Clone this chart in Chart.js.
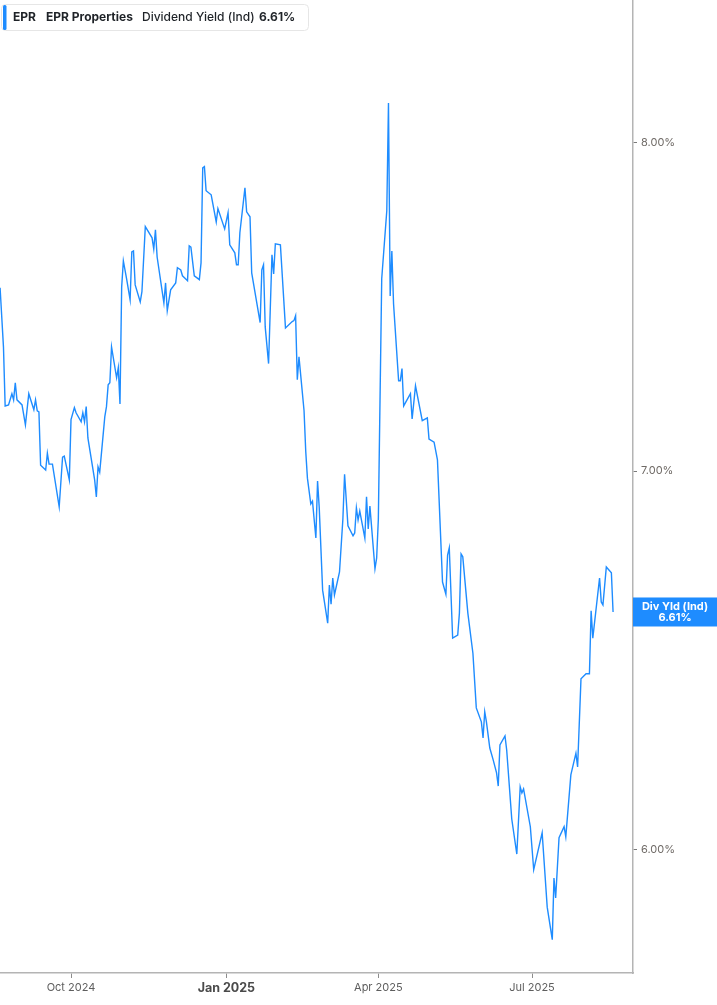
<!DOCTYPE html>
<html>
<head>
<meta charset="utf-8">
<script src="https://cdn.jsdelivr.net/npm/chart.js@4.4.1/dist/chart.umd.min.js"></script>
<style>
  html, body { margin: 0; padding: 0; background: #fff; }
  #wrap { width: 717px; height: 1005px; position: relative; }
  #yieldChart { display: block; width: 717px; height: 1005px; }
</style>
</head>
<body>
<div id="wrap"><canvas id="yieldChart" width="717" height="1005"></canvas></div>
<script>
// EPR Properties - dividend yield (indicated), Aug 2024 .. Aug 2025
// days = days since 1 Aug 2024

const days = [19,21,22,24,26,27,28,29,32,34,36,39,40,41,42,43,46,47,48,50,
  54,56,57,60,61,63,64,67,68,69,70,71,75,76,77,78,81,82,83,84,
  85,88,89,90,91,92,94,96,97,98,99,102,103,105,109,110,111,112,116,117,
  118,120,123,124,126,127,130,131,132,134,137,138,139,140,141,144,147,148,152,154,
  155,158,159,160,161,164,165,167,168,173,174,175,176,178,180,181,182,185,188,192,
  193,194,195,196,199,200,201,203,204,206,207,208,210,213,214,215,216,217,220,222,
  223,225,228,229,230,231,232,235,236,237,238,241,242,243,245,248,249,250,251,252,
  255,256,257,258,262,263,265,269,272,273,276,278,281,283,284,285,287,290,291,292,
  293,296,299,301,304,305,306,307,309,311,313,314,315,318,319,322,325,327,328,329,
  333,335,340,343,346,347,348,350,353,354,357,360,361,363,366,368,369,370,374,375,
  376,378,381,382];

const yieldPct = [7.542,7.363,7.188,7.191,7.224,7.206,7.256,7.206,7.191,7.133,
  7.224,7.177,7.206,7.174,7.171,7.017,7.003,7.051,7.020,7.020,
  6.899,7.040,7.043,6.975,7.148,7.183,7.168,7.142,7.168,7.142,
  7.186,7.095,6.975,6.927,7.012,6.997,7.156,7.186,7.250,7.256,
  7.363,7.271,7.301,7.194,7.545,7.625,7.567,7.505,7.653,7.656,
  7.551,7.499,7.530,7.732,7.697,7.662,7.722,7.637,7.496,7.557,
  7.472,7.536,7.557,7.604,7.597,7.579,7.564,7.672,7.668,7.579,
  7.567,7.619,7.919,7.923,7.846,7.833,7.747,7.789,7.725,7.776,
  7.675,7.650,7.613,7.613,7.713,7.855,7.779,7.763,7.588,7.436,
  7.597,7.613,7.423,7.313,7.644,7.585,7.678,7.675,7.420,7.439,
  7.442,7.457,7.265,7.333,7.174,7.057,6.980,6.907,6.915,6.812,
  6.972,6.896,6.669,6.580,6.683,6.631,6.702,6.656,6.719,6.865,
  6.991,6.846,6.818,6.826,6.896,6.862,6.887,6.812,6.927,6.837,
  6.901,6.727,6.757,6.865,7.570,7.782,8.131,7.517,7.656,7.493,
  7.262,7.262,7.298,7.188,7.224,7.150,7.247,7.145,7.153,7.092,
  7.083,7.032,6.691,6.658,6.765,6.785,6.540,6.548,6.607,6.768,
  6.760,6.607,6.500,6.357,6.321,6.280,6.347,6.321,6.254,6.224,
  6.191,6.158,6.262,6.285,6.249,6.076,5.990,6.156,6.141,6.151,
  6.057,5.952,6.042,5.862,5.785,5.932,5.884,6.030,6.057,6.032,
  6.186,6.241,6.206,6.433,6.446,6.446,6.613,6.540,6.702,6.637,
  6.629,6.732,6.716,6.610];

// x ticks (1st of month, days since 1 Aug 2024)
const xTickDays = [61, 153, 243, 334];
const xTickLabels = ['Oct 2024', 'Jan 2025', 'Apr 2025', 'Jul 2025'];
const yTickValues = [6, 7, 8];

const LINE_BLUE = '#1e8cff';
const AXIS_GREY = '#b4b4b4';
const LABEL_GREY = '#6f6a66';

function roundRect(ctx, x, y, w, h, r) {
  ctx.beginPath();
  ctx.moveTo(x + r, y);
  ctx.lineTo(x + w - r, y);
  ctx.quadraticCurveTo(x + w, y, x + w, y + r);
  ctx.lineTo(x + w, y + h - r);
  ctx.quadraticCurveTo(x + w, y + h, x + w - r, y + h);
  ctx.lineTo(x + r, y + h);
  ctx.quadraticCurveTo(x, y + h, x, y + h - r);
  ctx.lineTo(x, y + r);
  ctx.quadraticCurveTo(x, y, x + r, y);
  ctx.closePath();
}

// header legend + last value tag
const overlayPlugin = {
  id: 'overlay',
  afterDraw(chart) {
    const ctx = chart.ctx;
    const area = chart.chartArea;
    const last = yieldPct[yieldPct.length - 1];
    ctx.save();

    // legend box
    roundRect(ctx, 1.5, 4.5, 307, 26, 4);
    ctx.fillStyle = '#fff';
    ctx.fill();
    ctx.strokeStyle = '#e6e6e6';
    ctx.lineWidth = 1;
    ctx.stroke();
    roundRect(ctx, 3, 5, 3.5, 25, 1.5);
    ctx.fillStyle = LINE_BLUE;
    ctx.fill();

    ctx.fillStyle = '#1f2328';
    ctx.textBaseline = 'middle';
    ctx.textAlign = 'left';
    ctx.font = 'bold 12px Inter';
    ctx.fillText('EPR', 13, 17);
    ctx.fillText('EPR Properties', 46, 17);
    ctx.font = '500 12px Inter';
    ctx.fillText('Dividend Yield (Ind)', 142, 17);
    ctx.font = 'bold 12px Inter';
    ctx.fillText(last.toFixed(2) + '%', 259, 17);

    // last value tag on right axis
    const py = chart.scales.y.getPixelForValue(last);
    ctx.fillStyle = LINE_BLUE;
    ctx.fillRect(area.right, py - 14.5, chart.width - area.right, 29);
    ctx.fillStyle = '#fff';
    ctx.textAlign = 'center';
    ctx.font = 'bold 11px Inter';
    const cx = (area.right + chart.width) / 2;
    ctx.fillText('Div Yld (Ind)', cx, py - 5.5);
    ctx.fillText(last.toFixed(2) + '%', cx, py + 5.5);
    ctx.restore();
  }
};

new Chart(document.getElementById('yieldChart'), {
  type: 'line',
  data: {
    datasets: [{
      label: 'Dividend Yield (Ind)',
      data: days.map((d, i) => ({ x: d, y: yieldPct[i] })),
      borderColor: LINE_BLUE,
      borderWidth: 1.4,
      pointRadius: 0,
      tension: 0,
      fill: false
    }]
  },
  options: {
    responsive: false,
    animation: false,
    devicePixelRatio: 1,
    layout: { padding: 0 },
    plugins: {
      legend: { display: false },
      tooltip: { enabled: false }
    },
    scales: {
      x: {
        type: 'linear',
        bounds: 'data',
        min: 18.95,
        max: 393.8,
        afterBuildTicks: scale => { scale.ticks = xTickDays.map(v => ({ value: v })); },
        afterFit: scale => {
          scale.height = 32;
          scale.paddingLeft = 0;
          scale.paddingRight = 0;
        },
        grid: { drawOnChartArea: false, drawTicks: true, tickLength: 5, color: '#8c8c8c' },
        border: { display: true, color: AXIS_GREY, width: 1.5 },
        ticks: {
          autoSkip: false,
          maxRotation: 0,
          padding: 3,
          color: ctx => ctx.tick && ctx.tick.value === 153 ? '#4a4a4a' : '#5e5e5e',
          font: ctx => ctx.tick && ctx.tick.value === 153
            ? { family: 'Inter', size: 12.5, weight: 'bold' }
            : { family: 'Inter', size: 11 },
          callback: v => xTickLabels[xTickDays.indexOf(v)] || ''
        }
      },
      y: {
        type: 'logarithmic',
        position: 'right',
        bounds: 'data',
        min: 5.707,
        max: 8.479,
        afterBuildTicks: scale => { scale.ticks = yTickValues.map(v => ({ value: v })); },
        afterFit: scale => {
          scale.width = 84;
          scale.paddingTop = 0;
          scale.paddingBottom = 0;
        },
        grid: { drawOnChartArea: false, drawTicks: true, tickLength: 4, color: '#7a7a7a' },
        border: { display: true, color: AXIS_GREY, width: 1.5 },
        ticks: {
          padding: 4,
          color: LABEL_GREY,
          font: { family: 'Inter', size: 11 },
          callback: v => Number(v).toFixed(2) + '%'
        }
      }
    }
  },
  plugins: [overlayPlugin]
});
</script>
</body>
</html>
